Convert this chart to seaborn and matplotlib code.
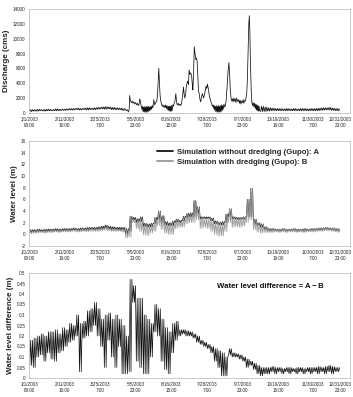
import numpy as np
import pandas as pd
import matplotlib
matplotlib.use("Agg")
import matplotlib.pyplot as plt
import seaborn as sns
from matplotlib.lines import Line2D
from matplotlib.ticker import FuncFormatter, MultipleLocator

# ---------------- data ----------------
bin_hours = 100
tick_hours = [0, 1000, 2000, 3000, 4000, 5000, 6000, 7000, 8000, 8759]
tick_labels = ["1/1/2003\n00:00", "2/11/2003\n16:00", "3/25/2003\n7:00", "5/5/2003\n23:00",
               "6/16/2003\n15:00", "7/28/2003\n7:00", "9/7/2003\n23:00", "10/19/2003\n16:00",
               "11/30/2003\n7:00", "12/31/2003\n23:00"]

# discharge: quiet stretches as low/high envelopes per 100-h bin
q_quiet1_start = 0        # bins 0..26
q_quiet1_lo = [200, 250, 250, 300, 250, 300, 300, 300, 300, 350,
               350, 400, 400, 450, 400, 450, 400, 450, 450, 500,
               550, 500, 550, 450, 450, 450, 350]
q_quiet1_hi = [450, 450, 500, 450, 500, 500, 450, 550, 500, 500,
               550, 600, 600, 650, 600, 650, 700, 650, 700, 750,
               800, 850, 800, 750, 700, 650, 600]
q_quiet2_start = 6500     # bins 65..87
q_quiet2_lo = [200, 200, 250, 300, 300, 300, 300, 300, 300, 300,
               300, 300, 300, 300, 300, 300, 300, 350, 400, 400,
               350, 300, 300]
q_quiet2_hi = [900, 800, 700, 650, 600, 600, 550, 600, 550, 600,
               550, 600, 600, 550, 600, 600, 650, 700, 700, 750,
               650, 600, 550]
# discharge: flood season traced point by point (hour, cms)
q_event_hours = [2700, 2730, 2760, 2790, 2810, 2825, 2845, 2870, 2895, 2920, 2945, 2970, 2995,
                 3020, 3045, 3070, 3090, 3110, 3130, 3150, 3170, 3185, 3200, 3215, 3230, 3245,
                 3260, 3275, 3290, 3305, 3320, 3335, 3350, 3365, 3380, 3395, 3410, 3425, 3440,
                 3460, 3480, 3505, 3530, 3560, 3590, 3610, 3630, 3645, 3660, 3680, 3700, 3720,
                 3740, 3760, 3780, 3800, 3820, 3840, 3860, 3880, 3900, 3915, 3930, 3945, 3960,
                 3975, 3990, 4005, 4020, 4040, 4060, 4080, 4100, 4125, 4145, 4165, 4190, 4210,
                 4240, 4265, 4290, 4320, 4340, 4360, 4380, 4400, 4420, 4440, 4460, 4480, 4500,
                 4520, 4545, 4570, 4590, 4605, 4625, 4645, 4665, 4685, 4705, 4725, 4745, 4765,
                 4785, 4805, 4825, 4850, 4870, 4890, 4910, 4930, 4955, 4975, 4995, 5015, 5035,
                 5055, 5075, 5095, 5115, 5135, 5155, 5175, 5190, 5205, 5220, 5235, 5250, 5265,
                 5280, 5295, 5310, 5325, 5340, 5355, 5370, 5385, 5400, 5415, 5430, 5445, 5460,
                 5480, 5500, 5520, 5545, 5570, 5595, 5620, 5640, 5660, 5680, 5700, 5720, 5740,
                 5760, 5780, 5800, 5820, 5840, 5860, 5880, 5900, 5920, 5940, 5960, 5980, 6000,
                 6020, 6040, 6060, 6080, 6100, 6120, 6140, 6160, 6180, 6195, 6210, 6225, 6245,
                 6265, 6285, 6305, 6325, 6345, 6365, 6380, 6395, 6410, 6425, 6440, 6455, 6470,
                 6485]
q_event_values = [500, 300, 450, 150, 400, 2350, 1700, 1400, 1600, 1300, 1500, 1200, 1400,
                  1100, 1300, 1000, 1200, 1900, 1500, 900, 500, 900, 200, 800, 150, 850,
                  100, 800, 150, 900, 100, 850, 200, 900, 300, 800, 400, 900, 500,
                  1000, 700, 1800, 1100, 1400, 1600, 2500, 4500, 6000, 4500, 2500, 1600, 1300,
                  900, 1100, 800, 1000, 700, 1100, 600, 1000, 400, 900, 300, 950, 250,
                  900, 200, 1000, 300, 1100, 900, 1400, 1600, 2600, 1500, 1100, 1300, 1000,
                  1200, 1000, 1400, 2500, 3500, 2500, 2000, 2600, 3500, 4000, 4300, 3800, 5800,
                  5200, 5400, 5000, 3800, 3100, 5500, 8900, 8000, 7200, 7400, 7000, 5000, 2900,
                  2600, 1800, 1500, 2200, 2600, 2300, 2000, 2500, 3000, 3600, 3300, 3900, 3400,
                  2800, 2100, 1900, 1500, 1200, 900, 1100, 600, 1000, 400, 900, 200, 1000,
                  150, 900, 100, 1000, 150, 900, 100, 1000, 200, 1100, 300, 1000, 500,
                  1200, 800, 1000, 1800, 3600, 5500, 6800, 5200, 3000, 2000, 1600, 1900, 1500,
                  2000, 1600, 1900, 1400, 2000, 1700, 1500, 1800, 1300, 1700, 1200, 1600, 1400,
                  1800, 1300, 1700, 1600, 2000, 2500, 4500, 8500, 12000, 13100, 11000, 7000, 3500,
                  1500, 1000, 1400, 800, 1300, 600, 1200, 400, 1100, 300, 1000, 250, 900,
                  300]

# water level (m), low/high envelopes per 100-h bin
a_lo = [0.3, 0.4, 0.4, 0.5, 0.4, 0.5, 0.5, 0.6, 0.5, 0.6,
        0.6, 0.6, 0.7, 0.7, 0.6, 0.7, 0.7, 0.8, 0.8, 0.8,
        0.9, 1.0, 0.9, 0.8, 0.8, 0.8, 0.7, 0.0, 0.5, 2.5,
        2.0, 2.2, 1.3, 1.2, 1.3, 1.8, 2.5, 2.0, 1.6, 1.4,
        1.5, 2.0, 2.0, 2.3, 2.8, 3.0, 3.0, 3.5, 2.6, 2.7,
        2.7, 2.3, 1.8, 1.6, 1.6, 2.0, 3.0, 2.6, 2.6, 2.5,
        2.6, 3.0, 3.0, 1.8, 1.5, 1.2, 0.8, 0.6, 0.6, 0.6,
        0.5, 0.6, 0.5, 0.6, 0.6, 0.5, 0.6, 0.5, 0.6, 0.6,
        0.6, 0.7, 0.7, 0.8, 0.8, 0.7, 0.6, 0.5]
a_hi = [0.8, 0.8, 0.9, 0.8, 0.9, 0.9, 0.9, 1.0, 0.9, 1.0,
        1.0, 1.0, 1.1, 1.0, 1.1, 1.1, 1.2, 1.2, 1.2, 1.3,
        1.4, 1.6, 1.4, 1.3, 1.2, 1.2, 1.2, 1.0, 3.1, 2.9,
        2.7, 3.0, 1.9, 1.8, 1.9, 2.9, 4.0, 3.2, 2.2, 2.0,
        2.3, 2.6, 2.4, 3.1, 3.6, 3.7, 5.8, 4.7, 3.0, 3.0,
        3.0, 2.8, 2.3, 2.1, 2.2, 3.5, 4.4, 3.0, 2.9, 2.9,
        3.0, 6.0, 7.9, 2.6, 2.0, 1.8, 1.3, 1.0, 1.0, 0.9,
        0.9, 1.0, 0.9, 0.9, 1.0, 0.9, 0.9, 1.0, 0.9, 1.0,
        1.0, 1.1, 1.1, 1.2, 1.1, 1.1, 1.0, 0.9]
b_lo = [0.1, 0.2, 0.2, 0.3, 0.2, 0.3, 0.3, 0.4, 0.3, 0.4,
        0.4, 0.4, 0.5, 0.4, 0.4, 0.5, 0.4, 0.5, 0.5, 0.5,
        0.6, 0.7, 0.6, 0.5, 0.5, 0.5, 0.4, -0.6, -0.5, 2.0,
        1.0, 0.5, -0.1, -0.2, 0.2, 0.5, 1.5, 0.8, 0.2, 0.0,
        0.0, 1.0, 1.2, 1.2, 1.8, 2.0, 2.0, 2.5, 1.0, 1.2,
        1.0, 0.5, 0.0, -0.3, -0.3, 0.5, 2.0, 1.2, 1.3, 1.2,
        1.4, 2.0, 2.5, 0.8, 0.4, 0.2, 0.3, 0.3, 0.3, 0.4,
        0.3, 0.4, 0.3, 0.4, 0.4, 0.3, 0.4, 0.3, 0.4, 0.4,
        0.4, 0.5, 0.5, 0.6, 0.6, 0.5, 0.4, 0.3]
b_hi = [0.6, 0.6, 0.7, 0.6, 0.7, 0.7, 0.7, 0.8, 0.7, 0.8,
        0.8, 0.8, 0.9, 0.8, 0.9, 0.9, 1.0, 1.0, 1.0, 1.0,
        1.1, 1.3, 1.1, 1.0, 0.9, 0.9, 0.9, 0.8, 2.8, 2.6,
        2.4, 2.7, 1.7, 1.6, 1.7, 2.6, 3.8, 3.0, 2.0, 1.8,
        2.1, 2.4, 2.2, 2.9, 3.4, 3.5, 5.6, 4.5, 2.8, 2.8,
        2.8, 2.6, 2.1, 2.0, 2.0, 3.3, 4.3, 2.9, 2.8, 2.8,
        2.9, 5.9, 7.8, 2.5, 1.9, 1.7, 1.2, 0.9, 0.9, 0.85,
        0.85, 0.95, 0.85, 0.85, 0.95, 0.85, 0.85, 0.95, 0.85, 0.95,
        0.95, 1.05, 1.05, 1.15, 1.05, 1.05, 0.95, 0.85]

# water level difference A - B (m), low/high envelopes per 100-h bin
d_hi = [0.18, 0.19, 0.20, 0.21, 0.20, 0.22, 0.22, 0.23, 0.21, 0.24,
        0.23, 0.26, 0.25, 0.30, 0.26, 0.27, 0.32, 0.33, 0.36, 0.33,
        0.28, 0.30, 0.31, 0.28, 0.30, 0.28, 0.25, 0.20, 0.47, 0.44,
        0.38, 0.38, 0.30, 0.28, 0.26, 0.35, 0.33, 0.28, 0.24, 0.22,
        0.26, 0.27, 0.23, 0.23, 0.225, 0.22, 0.21, 0.20, 0.18, 0.17,
        0.16, 0.15, 0.14, 0.13, 0.12, 0.10, 0.14, 0.12, 0.115, 0.11,
        0.10, 0.09, 0.08, 0.07, 0.06, 0.05, 0.05, 0.05, 0.055, 0.05,
        0.05, 0.045, 0.05, 0.05, 0.045, 0.05, 0.05, 0.045, 0.05, 0.05,
        0.05, 0.055, 0.05, 0.055, 0.06, 0.055, 0.05, 0.05]
d_lo = [0.06, 0.05, 0.10, 0.11, 0.08, 0.12, 0.09, 0.08, 0.12, 0.13,
        0.15, 0.17, 0.18, 0.20, 0.03, 0.19, 0.20, 0.22, 0.25, 0.20,
        0.15, 0.05, 0.18, 0.10, 0.05, 0.15, 0.02, 0.02, 0.03, 0.36,
        0.08, 0.05, 0.02, 0.02, 0.10, 0.22, 0.20, 0.08, 0.04, 0.02,
        0.12, 0.18, 0.20, 0.21, 0.20, 0.20, 0.19, 0.17, 0.16, 0.15,
        0.14, 0.12, 0.08, 0.05, 0.01, 0.01, 0.11, 0.10, 0.10, 0.09,
        0.08, 0.05, 0.06, 0.04, 0.02, 0.01, 0.02, 0.02, 0.03, 0.02,
        0.03, 0.02, 0.03, 0.02, 0.03, 0.02, 0.03, 0.02, 0.03, 0.02,
        0.03, 0.02, 0.03, 0.02, 0.03, 0.02, 0.03, 0.03]

legend_a = "Simulation without dredging (Gupo): A"
legend_b = "Simulation with dredging (Gupo): B"
diff_text = "Water level difference = A\u2009\u2212\u2009B"


def envelope_points(lo, hi, start=0):
    """Trace each bin's read low/high envelope as a dense up-down line."""
    t, v = [], []
    for i, (l, h) in enumerate(zip(lo, hi)):
        for k, val in enumerate((l, h, l, h)):
            tt = start + i * bin_hours + 12.5 + 25 * k
            if tt <= 8759:
                t.append(tt)
                v.append(val)
    return t, v


def frame(t, v):
    return pd.DataFrame({"hour": t, "value": v})


# discharge frame: quiet envelopes + flood-season trace
t1, v1 = envelope_points(q_quiet1_lo, q_quiet1_hi, q_quiet1_start)
t2, v2 = envelope_points(q_quiet2_lo, q_quiet2_hi, q_quiet2_start)
q_df = frame(t1 + list(q_event_hours) + t2, v1 + list(q_event_values) + v2)

sns.set_theme(style="white")
plt.rcParams["font.family"] = ["Liberation Sans", "DejaVu Sans"]

fig = plt.figure(figsize=(3.53, 3.97), dpi=100)
W, H = 353, 397
def add_ax(top, bottom, left=29, right=350):
    return fig.add_axes([left / W, 1 - bottom / H, (right - left) / W, (bottom - top) / H])

ax1 = add_ax(9, 113)
ax2 = add_ax(141, 246)
ax3 = add_ax(273, 378)

dark = "#111111"
gray = "#9a9a9a"

sns.lineplot(data=q_df, x="hour", y="value", ax=ax1,
             sort=False, estimator=None, color=dark, linewidth=0.55)
sns.lineplot(data=frame(*envelope_points(a_lo, a_hi)), x="hour", y="value", ax=ax2,
             sort=False, estimator=None, color=dark, linewidth=0.5)
sns.lineplot(data=frame(*envelope_points(b_lo, b_hi)), x="hour", y="value", ax=ax2,
             sort=False, estimator=None, color=gray, linewidth=0.5)
sns.lineplot(data=frame(*envelope_points(d_lo, d_hi)), x="hour", y="value", ax=ax3,
             sort=False, estimator=None, color=dark, linewidth=0.5)

fmt = FuncFormatter(lambda v, p: ("%g" % round(v, 4)))
for ax, (ymin, ymax, step), lab in [
        (ax1, (0, 14000, 2000), "Discharge (cms)"),
        (ax2, (-2, 16, 2), "Water level (m)"),
        (ax3, (0, 0.5, 0.05), "Water level difference (m)")]:
    ax.set_xlim(-10, 9030)
    ax.set_ylim(ymin, ymax)
    ax.yaxis.set_major_locator(MultipleLocator(step))
    ax.yaxis.set_major_formatter(fmt)
    ax.set_xticks(tick_hours)
    ax.set_xticklabels(tick_labels)
    ax.set_xlabel("")
    ax.set_ylabel(lab, fontsize=5.8, fontweight="bold", labelpad=2)
    ax.tick_params(axis="both", labelsize=3.3, length=1.5, width=0.4, pad=1,
                   color="#777777", labelcolor="#222222", direction="out")
    ax.tick_params(axis="x", pad=1.5)
    for s in ax.spines.values():
        s.set_color("#c0c0c0")
        s.set_linewidth(0.6)
    ax.grid(False)

handles = [Line2D([], [], color=dark, linewidth=1.3), Line2D([], [], color=gray, linewidth=1.3)]
ax2.legend(handles, [legend_a, legend_b], loc="upper left", bbox_to_anchor=(0.40, 0.93),
           frameon=False, prop={"size": 5.6, "weight": "bold"}, handlelength=2.0,
           handletextpad=0.5, labelspacing=0.35, borderpad=0, borderaxespad=0)

ax3.text(0.586, 0.875, diff_text, transform=ax3.transAxes, fontsize=5.6, fontweight="bold",
         ha="left", va="center", color="#111111")

fig.savefig("out.png", dpi=100)
